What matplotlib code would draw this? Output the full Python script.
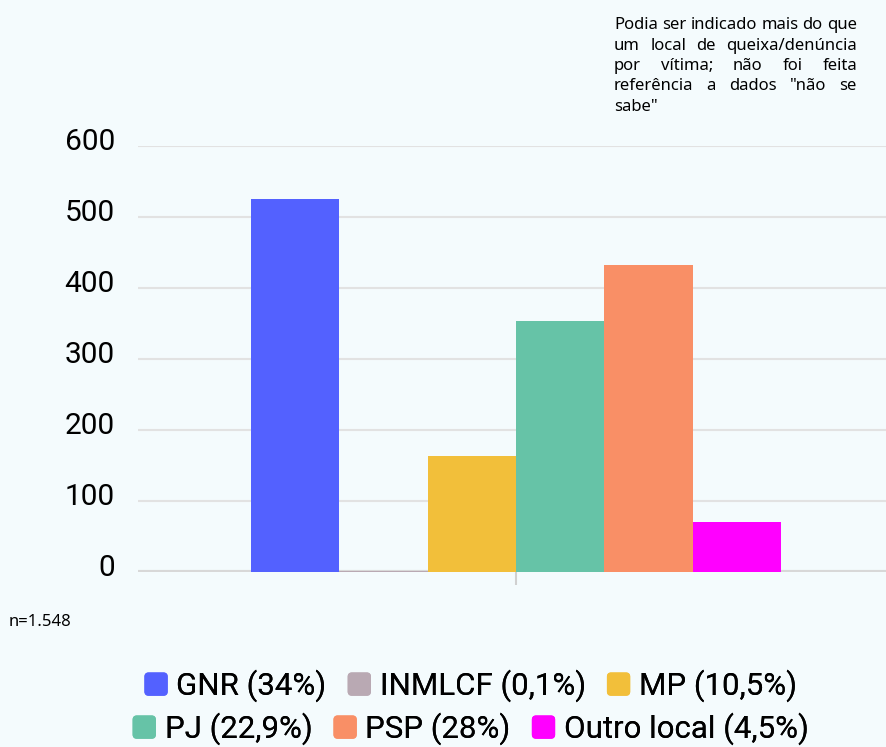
import matplotlib
matplotlib.use('Agg')
import matplotlib.pyplot as plt
from matplotlib.font_manager import FontProperties
from matplotlib.patches import Patch, FancyBboxPatch
from matplotlib.legend_handler import HandlerPatch

# dados
categorias = ['GNR (34%)', 'INMLCF (0,1%)', 'MP (10,5%)',
              'PJ (22,9%)', 'PSP (28%)', 'Outro local (4,5%)']
valores = [526, 2, 163, 354, 433, 70]
cores = ['#5361ff', '#b9a9b3', '#f2bf3a', '#66c3a7', '#f98f66', '#ff00ff']
yticks = [0, 100, 200, 300, 400, 500, 600]
nota_linhas = ['Podia ser indicado mais do que',
               'um local de queixa/denúncia',
               'por vítima; não foi feita',
               'referência a dados "não se',
               'sabe"']
amostra = 'n=1.548'

W, H = 887, 747
fundo = '#f4fbfd'

fig = plt.figure(figsize=(W / 100, H / 100), dpi=100, facecolor=fundo)
ax = fig.add_axes([138 / W, (H - 572) / H, 1 - 138 / W, (572 - 146) / H])
ax.set_facecolor(fundo)

# barras lado a lado, centradas em 0
for i, (v, c) in enumerate(zip(valores, cores)):
    ax.bar(i - 2.5, v, width=1.0, color=c, zorder=3)

ax.set_ylim(0, 600)
ax.set_xlim(-4.28, 4.2)
ax.set_yticks(yticks)
ax.set_yticklabels([])
# rótulos do eixo y um pouco acima das linhas de grelha
for t in yticks:
    ax.annotate(str(t), xy=(0, t), xycoords=('axes fraction', 'data'),
                xytext=(-23, 7), textcoords='offset pixels',
                ha='right', va='center_baseline', fontfamily='Roboto',
                fontsize=21.5, annotation_clip=False)
ax.set_xticks([0])
ax.set_xticklabels([''])
ax.tick_params(axis='y', length=0)
ax.tick_params(axis='x', length=9, width=1.5, color='#d0d0d0', direction='out')
ax.yaxis.grid(True, color='#e2e2e2', lw=1.5, zorder=0)
ax.axhline(0, color='#d8d8d8', lw=3, zorder=2)
for s in ax.spines.values():
    s.set_visible(False)
ax.set_axisbelow(True)

# legenda (duas linhas centradas)
def caixa(legend, orig_handle, xdescent, ydescent, width, height, fontsize):
    return FancyBboxPatch((-xdescent, -ydescent), width, height,
                          boxstyle='round,pad=0,rounding_size=2.5')

handles = [Patch(color=c, label=l) for c, l in zip(cores, categorias)]
for k, yc in enumerate([686, 729]):
    leg = fig.legend(handles=handles[3 * k:3 * k + 3], loc='center',
                     bbox_to_anchor=(471 / W, 1 - yc / H), ncol=3, frameon=False,
                     prop={'family': 'Roboto', 'size': 22.5},
                     handlelength=0.7, handleheight=0.7, handletextpad=0.3,
                     columnspacing=0.7, borderpad=0, borderaxespad=0,
                     handler_map={Patch: HandlerPatch(patch_func=caixa)})
    fig.add_artist(leg)

fp = FontProperties(family='Noto Sans', size=12.0)
fig.text(9 / W, 1 - 626 / H, amostra, fontproperties=fp,
         va='baseline', ha='left')

# nota justificada
fig.canvas.draw()
r = fig.canvas.get_renderer()

def largura(s):
    return r.get_text_width_height_descent(s, fp, ismath=False)[0]

esp = largura('a a') - largura('aa')
x0, x1 = 614, 857
topo = 29
passo = 20.5
for k, linha in enumerate(nota_linhas):
    yb = 1 - (topo + k * passo) / H
    palavras = linha.split()
    larg = [largura(p) for p in palavras]
    if k < len(nota_linhas) - 1 and len(palavras) > 1:
        gap = (x1 - x0 - sum(larg)) / (len(palavras) - 1)
    else:
        gap = esp
    x = x0
    for p, w in zip(palavras, larg):
        fig.text(x / W, yb, p, fontproperties=fp, va='baseline', ha='left')
        x += w + gap

fig.savefig('out.png', dpi=100, facecolor=fundo)
